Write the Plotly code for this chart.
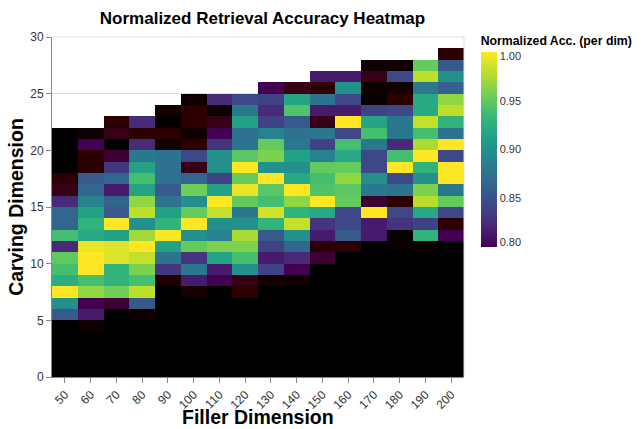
import plotly.graph_objects as go

# ---------------- data ----------------
filler_dims = [50, 60, 70, 80, 90, 100, 110, 120, 130, 140, 150, 160, 170, 180, 190, 200]
carving_dims = list(range(0, 30))  # carving dimension k covers [k, k+1]

# normalized accuracy per filler dimension, listed from carving dim 0 upward
acc_50 = [0.60, 0.60, 0.60, 0.60, 0.60, 0.856, 0.90, 1.0, 0.924, 0.94, 0.95, 0.824, 0.94, 0.866,
          0.866, 0.824, 0.76, 0.73, 0.60, 0.60, 0.60, 0.60]
acc_60 = [0.60, 0.60, 0.60, 0.60, 0.66, 0.814, 0.80, 0.966, 0.94, 1.0, 1.0, 0.994, 0.92, 0.93,
          0.914, 0.89, 0.866, 0.856, 0.73, 0.73, 0.80, 0.66]
acc_70 = [0.60, 0.60, 0.60, 0.60, 0.60, 0.60, 0.78, 0.956, 0.93, 0.93, 0.99, 0.99, 0.914, 1.0,
          0.856, 0.864, 0.814, 0.866, 0.83, 0.78, 0.60, 0.76, 0.73]
acc_80 = [0.60, 0.60, 0.60, 0.60, 0.60, 0.66, 0.856, 0.98, 0.94, 0.96, 0.982, 1.0, 0.972, 0.90,
          0.98, 0.966, 0.916, 0.94, 0.914, 0.88, 0.824, 0.73, 0.824]
acc_90 = [0.60, 0.60, 0.60, 0.60, 0.60, 0.60, 0.60, 0.60, 0.70, 0.83, 0.875, 0.914, 1.0, 0.93,
          0.914, 0.875, 0.856, 0.875, 0.875, 0.875, 0.68, 0.73, 0.62, 0.68]
acc_100 = [0.60, 0.60, 0.60, 0.60, 0.60, 0.60, 0.60, 0.68, 0.815, 0.88, 0.83, 0.952, 0.90, 1.0,
           0.952, 0.90, 0.956, 0.866, 0.76, 0.844, 0.73, 0.66, 0.73, 0.73, 0.66]
acc_110 = [0.60, 0.60, 0.60, 0.60, 0.60, 0.60, 0.60, 0.60, 0.80, 0.815, 0.916, 0.96, 0.89, 0.90,
           0.982, 1.0, 0.914, 0.84, 0.90, 0.90, 0.83, 0.80, 0.76, 0.66, 0.824]
acc_120 = [0.60, 0.60, 0.60, 0.60, 0.60, 0.60, 0.60, 0.73, 0.76, 0.90, 0.94, 0.96, 0.974, 0.90,
           0.88, 0.952, 0.994, 0.952, 1.0, 0.948, 0.875, 0.875, 0.914, 0.88, 0.844]
acc_130 = [0.60, 0.60, 0.60, 0.60, 0.60, 0.60, 0.60, 0.60, 0.68, 0.84, 0.815, 0.84, 0.856, 0.93,
           0.988, 0.94, 0.948, 1.0, 0.90, 0.96, 0.952, 0.89, 0.84, 0.824, 0.84, 0.80]
acc_140 = [0.60, 0.60, 0.60, 0.60, 0.60, 0.60, 0.60, 0.60, 0.66, 0.80, 0.824, 0.866, 0.90, 0.982,
           0.93, 0.966, 1.0, 0.92, 0.90, 0.914, 0.88, 0.875, 0.856, 0.944, 0.916, 0.76]
acc_150 = [0.60, 0.60, 0.60, 0.60, 0.60, 0.60, 0.60, 0.60, 0.60, 0.60, 0.78, 0.73, 0.815, 0.83,
           0.92, 1.0, 0.944, 0.94, 0.952, 0.89, 0.84, 0.88, 0.76, 0.815, 0.875, 0.73, 0.815]
acc_160 = [0.60, 0.60, 0.60, 0.60, 0.60, 0.60, 0.60, 0.60, 0.60, 0.60, 0.60, 0.73, 0.856, 0.844,
           0.844, 0.952, 0.948, 0.966, 0.952, 0.92, 0.94, 0.844, 1.0, 0.815, 0.844, 0.90, 0.815]
acc_170 = [0.60, 0.60, 0.60, 0.60, 0.60, 0.60, 0.60, 0.60, 0.60, 0.60, 0.60, 0.60, 0.815, 0.815,
           1.0, 0.78, 0.88, 0.90, 0.844, 0.844, 0.88, 0.94, 0.916, 0.84, 0.64, 0.66, 0.76, 0.66]
acc_180 = [0.60, 0.60, 0.60, 0.60, 0.60, 0.60, 0.60, 0.60, 0.60, 0.60, 0.60, 0.64, 0.64, 0.83,
           0.844, 0.73, 0.875, 0.844, 1.0, 0.94, 0.824, 0.88, 0.88, 0.844, 0.73, 0.68, 0.844, 0.66]
acc_190 = [0.60, 0.60, 0.60, 0.60, 0.60, 0.60, 0.60, 0.60, 0.60, 0.60, 0.60, 0.64, 0.93, 0.84,
           0.92, 0.978, 0.96, 0.90, 0.93, 1.0, 0.974, 0.94, 0.982, 0.92, 0.92, 0.88, 0.98, 0.952]
acc_200 = [0.60, 0.60, 0.60, 0.60, 0.60, 0.60, 0.60, 0.60, 0.60, 0.60, 0.60, 0.60, 0.80, 0.73,
           0.844, 0.952, 0.88, 1.0, 1.0, 0.844, 1.0, 0.875, 0.93, 0.98, 0.966, 0.86, 0.90, 0.856, 0.73]

columns = [acc_50, acc_60, acc_70, acc_80, acc_90, acc_100, acc_110, acc_120,
           acc_130, acc_140, acc_150, acc_160, acc_170, acc_180, acc_190, acc_200]

color_min, color_max = 0.80, 1.00
colorbar_ticks = [0.80, 0.85, 0.90, 0.95, 1.00]

# ---------------- build matrices ----------------
x_labels = [str(f) for f in filler_dims]
y_edges = carving_dims + [carving_dims[-1] + 1]

z_main, z_low = [], []
for r in range(len(carving_dims)):
    row_main, row_low = [], []
    for col in columns:
        v = col[r] if r < len(col) else None
        if v is None:
            row_main.append(None); row_low.append(None)
        elif v >= color_min:
            row_main.append(v); row_low.append(None)
        else:
            row_main.append(None); row_low.append(v)
    z_main.append(row_main)
    z_low.append(row_low)

FONT = "Liberation Sans, Arial, Helvetica, sans-serif"

low_scale = [
    [0.00, "#000000"],
    [0.30, "#0e0000"],
    [0.50, "#1c0000"],
    [0.65, "#2c0000"],
    [0.80, "#380016"],
    [0.90, "#3d0032"],
    [1.00, "#440050"],
]

# keep the end labels of the legend inside the gradient (as in the reference)
span = color_max - color_min
inset = span * 4.5 / 192
label_pos = [min(max(t, color_min + inset), color_max - inset) for t in colorbar_ticks]

fig = go.Figure()
fig.add_trace(go.Heatmap(
    x=x_labels, y=y_edges, z=z_low,
    colorscale=low_scale, zmin=0.60, zmax=0.80,
    showscale=False, hoverinfo="skip",
))
fig.add_trace(go.Heatmap(
    x=x_labels, y=y_edges, z=z_main,
    colorscale="Viridis", zmin=color_min, zmax=color_max,
    colorbar=dict(
        title=dict(text="<b>Normalized Acc. (per dim)</b>", side="top",
                   font=dict(size=12.3, family=FONT, color="#000")),
        thickness=16, thicknessmode="pixels",
        len=214, lenmode="pixels",
        x=(490 - 52) / 421, xanchor="left", xpad=0,
        y=(377 - 33) / 340, yanchor="top", ypad=0,
        tickvals=label_pos, ticktext=[f"{t:.2f}" for t in colorbar_ticks], ticks="",
        tickfont=dict(size=11, family=FONT, color="#333"),
        outlinewidth=0,
    ),
))

fig.update_layout(
    width=644, height=429,
    margin=dict(l=52, r=171, t=37, b=52),
    paper_bgcolor="white", plot_bgcolor="white",
    font=dict(family=FONT, color="#000"),
    title=dict(text="<b>Normalized Retrieval Accuracy Heatmap</b>",
               x=(52 + 473) / 2 / 644, xanchor="center",
               y=1 - 18 / 429, yanchor="middle",
               font=dict(size=17, family=FONT, color="#000")),
    xaxis=dict(
        type="category", categoryorder="array", categoryarray=x_labels,
        tickangle=-45, ticks="outside", ticklen=5, tickcolor="#888",
        showline=True, linecolor="#888", linewidth=1, showgrid=False,
        tickfont=dict(size=12, family=FONT, color="#333"),
        automargin=False,
    ),
    yaxis=dict(
        range=[0, 30], dtick=5, tick0=0,
        ticks="outside", ticklen=5, tickcolor="#888",
        showline=True, linecolor="#888", linewidth=1,
        showgrid=True, gridcolor="#ddd", zeroline=False,
        tickfont=dict(size=12, family=FONT, color="#333"),
        title=dict(text="<b>Carving Dimension</b>", standoff=1,
                   font=dict(size=19.5, family=FONT, color="#000")),
        automargin=False,
    ),
    annotations=[
        dict(text="<b>Filler Dimension</b>", xref="paper", yref="paper",
             x=0.5, y=(377 - 417) / 340, xanchor="center", yanchor="middle",
             showarrow=False, font=dict(size=19.5, family=FONT, color="#000")),
    ],
    shapes=[
        dict(type="line", xref="paper", yref="paper", x0=0, x1=1, y0=1, y1=1,
             line=dict(color="#ddd", width=1), layer="above"),
        dict(type="line", xref="paper", yref="paper", x0=1, x1=1, y0=0, y1=1,
             line=dict(color="#ddd", width=1), layer="above"),
    ],
)

fig.write_html("out.html")
